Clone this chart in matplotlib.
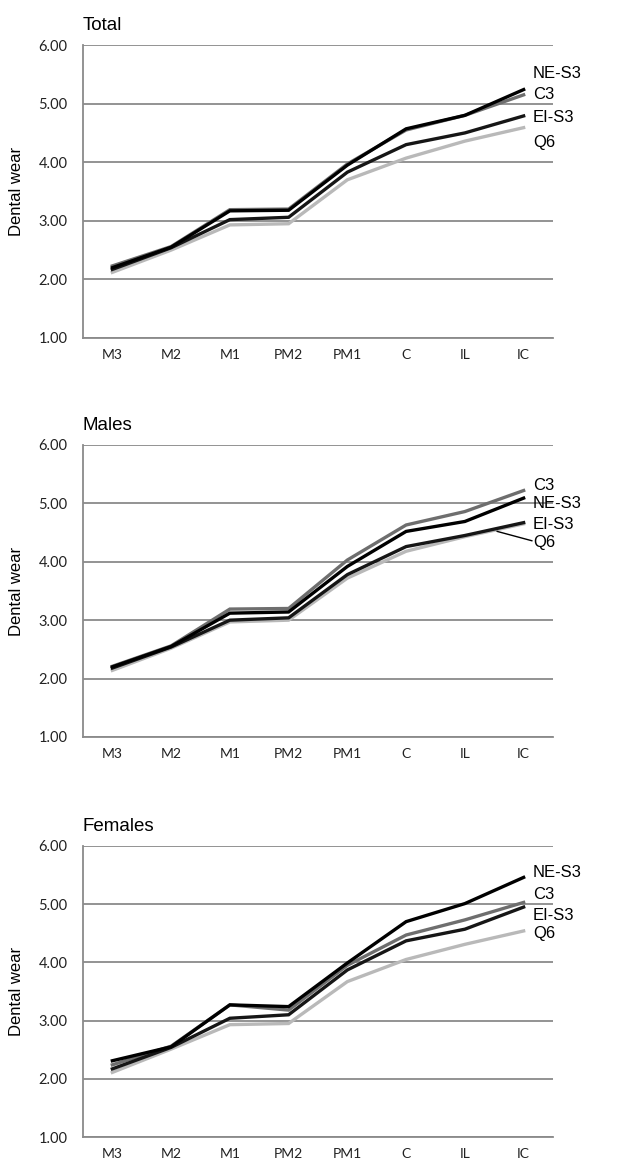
import matplotlib
matplotlib.use("Agg")
import matplotlib.pyplot as plt

teeth = ['M3', 'M2', 'M1', 'PM2', 'PM1', 'C', 'IL', 'IC']
groups = ['NE-S3', 'C3', 'EI-S3', 'Q6']

total_ne_s3 = [2.20, 2.55, 3.17, 3.18, 3.95, 4.57, 4.80, 5.24]
total_c3 = [2.23, 2.56, 3.19, 3.20, 3.97, 4.55, 4.80, 5.15]
total_ei_s3 = [2.17, 2.54, 3.02, 3.06, 3.83, 4.30, 4.50, 4.79]
total_q6 = [2.12, 2.50, 2.93, 2.95, 3.70, 4.07, 4.36, 4.59]

males_ne_s3 = [2.20, 2.55, 3.12, 3.14, 3.92, 4.52, 4.69, 5.09]
males_c3 = [2.21, 2.56, 3.19, 3.20, 4.03, 4.63, 4.86, 5.22]
males_ei_s3 = [2.18, 2.54, 3.00, 3.04, 3.78, 4.26, 4.45, 4.67]
males_q6 = [2.14, 2.52, 2.97, 3.00, 3.72, 4.18, 4.43, 4.65]

females_ne_s3 = [2.31, 2.55, 3.27, 3.24, 3.99, 4.70, 5.01, 5.46]
females_c3 = [2.24, 2.56, 3.27, 3.18, 3.95, 4.47, 4.73, 5.03]
females_ei_s3 = [2.17, 2.54, 3.04, 3.10, 3.87, 4.37, 4.57, 4.95]
females_q6 = [2.11, 2.51, 2.93, 2.95, 3.67, 4.05, 4.31, 4.54]

colors = {'NE-S3': '#000000', 'C3': '#6e6e6e', 'EI-S3': '#161616', 'Q6': '#b9b9b9'}

panels = [
    ('Total', [0.1315, 0.7104, 0.7449, 0.2510],
     {'NE-S3': total_ne_s3, 'C3': total_c3, 'EI-S3': total_ei_s3, 'Q6': total_q6},
     {'NE-S3': 5.52, 'C3': 5.15, 'EI-S3': 4.77, 'Q6': 4.33}),
    ('Males', [0.1315, 0.3685, 0.7449, 0.2502],
     {'NE-S3': males_ne_s3, 'C3': males_c3, 'EI-S3': males_ei_s3, 'Q6': males_q6},
     {'C3': 5.31, 'NE-S3': 5.00, 'EI-S3': 4.64, 'Q6': 4.33}),
    ('Females', [0.1315, 0.0257, 0.7449, 0.2494],
     {'NE-S3': females_ne_s3, 'C3': females_c3, 'EI-S3': females_ei_s3, 'Q6': females_q6},
     {'NE-S3': 5.55, 'C3': 5.16, 'EI-S3': 4.80, 'Q6': 4.50}),
]

fig = plt.figure(figsize=(6.31, 11.67), dpi=100)
x = list(range(len(teeth)))

for title, rect, data, label_y in panels:
    ax = fig.add_axes(rect)
    ax.set_xlim(-0.5, 7.5)
    ax.set_ylim(1, 6)
    ax.set_yticks([1, 2, 3, 4, 5, 6])
    ax.set_yticklabels(['%.2f' % v for v in [1, 2, 3, 4, 5, 6]],
                       fontsize=10.5, family='Lato', color='#222222')
    ax.set_xticks(x)
    ax.set_xticklabels(teeth, fontsize=10, family='Lato', color='#222222')
    ax.tick_params(axis='y', length=0, pad=11)
    ax.tick_params(axis='x', length=0, pad=8)
    ax.grid(axis='y', color='#8a8a8a', linewidth=1.3)
    ax.set_axisbelow(True)
    for s in ['top', 'right']:
        ax.spines[s].set_visible(False)
    ax.spines['left'].set_color('#8a8a8a')
    ax.spines['bottom'].set_color('#8a8a8a')
    ax.spines['left'].set_linewidth(1.3)
    ax.spines['bottom'].set_linewidth(1.3)
    ax.set_ylabel('Dental wear', fontsize=12, family='Liberation Sans')
    ax.yaxis.set_label_coords(-0.125, 0.5)
    ax.set_title(title, loc='left', fontsize=13.5, family='Liberation Sans', pad=11)

    for g in ['Q6', 'C3', 'EI-S3', 'NE-S3']:
        ax.plot(x, data[g], color=colors[g], linewidth=2.4, solid_joinstyle='miter')

    for g in groups:
        ax.text(7.16, label_y[g], g, fontsize=12, family='Liberation Sans',
                va='center', ha='left', clip_on=False)
    if title == 'Males':
        ax.plot([6.55, 7.14], [4.52, 4.36], color='black', linewidth=1, clip_on=False)

fig.savefig('out.png', dpi=100)
